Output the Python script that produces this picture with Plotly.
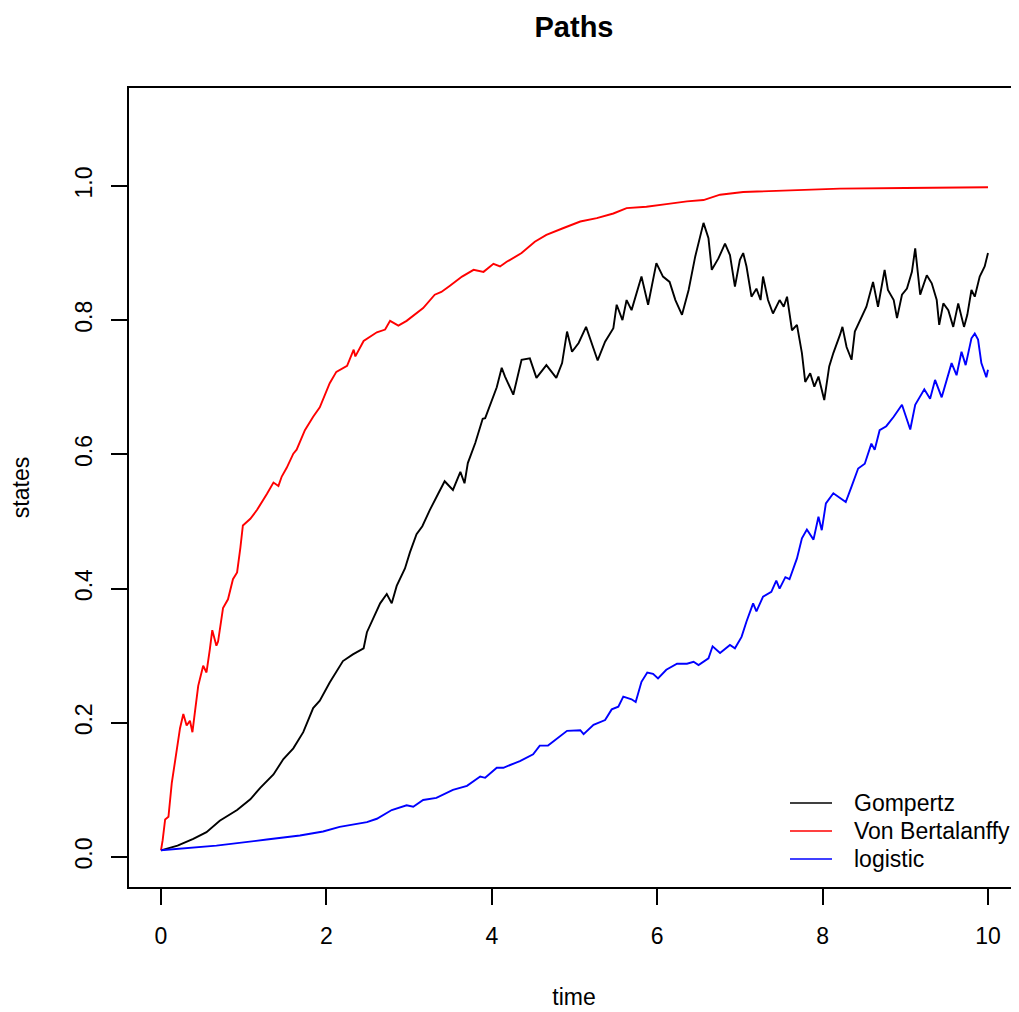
import plotly.graph_objects as go

# ---- data ----
t_gompertz = [0, 0.2, 0.39, 0.55, 0.71, 0.92, 1.08, 1.20, 1.36, 1.48, 1.60, 1.72, 1.84, 1.92, 2.04, 2.20,
              2.32, 2.45, 2.49, 2.59, 2.65, 2.73, 2.79, 2.85, 2.95, 3.01, 3.09, 3.16, 3.25, 3.35, 3.43,
              3.53, 3.62, 3.67, 3.71, 3.80, 3.89, 3.92, 4.02, 4.06, 4.12, 4.16, 4.26, 4.36, 4.46, 4.54,
              4.66, 4.78, 4.85, 4.91, 4.97, 5.05, 5.14, 5.20, 5.28, 5.37, 5.47, 5.51, 5.58, 5.63, 5.69,
              5.81, 5.89, 5.99, 6.07, 6.15, 6.22, 6.30, 6.38, 6.46, 6.56, 6.62, 6.66, 6.74, 6.82, 6.88,
              6.94, 7.00, 7.04, 7.08, 7.14, 7.20, 7.25, 7.28, 7.34, 7.40, 7.48, 7.53, 7.57, 7.63, 7.69,
              7.75, 7.79, 7.85, 7.90, 7.95, 8.02, 8.08, 8.13, 8.21, 8.24, 8.29, 8.35, 8.39, 8.47, 8.53,
              8.61, 8.67, 8.75, 8.79, 8.86, 8.90, 8.96, 9.02, 9.08, 9.12, 9.18, 9.26, 9.32, 9.38, 9.41,
              9.46, 9.52, 9.58, 9.64, 9.71, 9.75, 9.80, 9.84, 9.90, 9.96, 10.0]
v_gompertz = [0.010, 0.017, 0.027, 0.037, 0.054, 0.070, 0.086, 0.103, 0.123, 0.146, 0.162, 0.186, 0.222, 0.233,
              0.260, 0.292, 0.302, 0.311, 0.335, 0.362, 0.378, 0.392, 0.378, 0.404, 0.430, 0.454, 0.481,
              0.493, 0.517, 0.541, 0.560, 0.547, 0.574, 0.557, 0.587, 0.617, 0.653, 0.654, 0.686, 0.700,
              0.729, 0.716, 0.689, 0.741, 0.743, 0.714, 0.733, 0.714, 0.736, 0.783, 0.753, 0.766, 0.790,
              0.768, 0.740, 0.768, 0.788, 0.823, 0.800, 0.830, 0.815, 0.865, 0.823, 0.885, 0.865, 0.857,
              0.830, 0.808, 0.845, 0.895, 0.945, 0.922, 0.875, 0.892, 0.914, 0.897, 0.850, 0.890, 0.900,
              0.880, 0.835, 0.847, 0.830, 0.865, 0.830, 0.810, 0.830, 0.820, 0.835, 0.785, 0.793, 0.751,
              0.708, 0.721, 0.701, 0.716, 0.681, 0.731, 0.751, 0.778, 0.790, 0.760, 0.741, 0.783, 0.803,
              0.820, 0.857, 0.820, 0.875, 0.845, 0.830, 0.803, 0.838, 0.847, 0.872, 0.907, 0.838, 0.867,
              0.855, 0.830, 0.793, 0.825, 0.815, 0.790, 0.825, 0.790, 0.808, 0.845, 0.835, 0.865, 0.880,
              0.900]

t_bertalanffy = [0, 0.02, 0.05, 0.09, 0.13, 0.19, 0.23, 0.27, 0.31, 0.35, 0.38, 0.41, 0.45, 0.51, 0.55,
                 0.59, 0.62, 0.67, 0.69, 0.75, 0.81, 0.87, 0.92, 0.96, 0.99, 1.08, 1.16, 1.28, 1.36, 1.42,
                 1.46, 1.52, 1.60, 1.64, 1.74, 1.84, 1.92, 2.04, 2.12, 2.25, 2.33, 2.35, 2.45, 2.61, 2.71,
                 2.77, 2.87, 2.97, 3.03, 3.17, 3.31, 3.39, 3.49, 3.64, 3.78, 3.90, 4.02, 4.10, 4.18, 4.36,
                 4.52, 4.66, 4.86, 5.07, 5.27, 5.47, 5.63, 5.87, 6.11, 6.36, 6.56, 6.76, 7.04, 7.64, 8.21,
                 9.0, 10.0]
v_bertalanffy = [0.010, 0.025, 0.056, 0.060, 0.110, 0.156, 0.192, 0.213, 0.196, 0.203, 0.186, 0.216, 0.255,
                 0.285, 0.275, 0.309, 0.338, 0.315, 0.321, 0.371, 0.384, 0.414, 0.424, 0.461, 0.494, 0.504,
                 0.517, 0.541, 0.558, 0.553, 0.567, 0.580, 0.601, 0.607, 0.636, 0.656, 0.670, 0.706, 0.723,
                 0.732, 0.756, 0.746, 0.769, 0.782, 0.786, 0.799, 0.792, 0.799, 0.805, 0.818, 0.838, 0.842,
                 0.851, 0.865, 0.875, 0.872, 0.884, 0.880, 0.887, 0.900, 0.917, 0.927, 0.937, 0.947, 0.952,
                 0.959, 0.967, 0.969, 0.973, 0.977, 0.979, 0.987, 0.991, 0.994, 0.996, 0.997, 0.998]

t_logistic = [0, 0.67, 1.28, 1.68, 1.96, 2.16, 2.49, 2.61, 2.79, 2.97, 3.05, 3.17, 3.33, 3.53, 3.70, 3.86,
              3.92, 4.06, 4.14, 4.34, 4.50, 4.58, 4.68, 4.82, 4.91, 5.07, 5.11, 5.23, 5.37, 5.45, 5.53,
              5.59, 5.69, 5.74, 5.81, 5.88, 5.95, 6.01, 6.11, 6.24, 6.36, 6.44, 6.50, 6.62, 6.67, 6.76,
              6.88, 6.94, 7.02, 7.08, 7.16, 7.20, 7.28, 7.38, 7.44, 7.48, 7.55, 7.60, 7.65, 7.69, 7.75,
              7.81, 7.89, 7.95, 7.99, 8.04, 8.13, 8.21, 8.28, 8.35, 8.43, 8.51, 8.59, 8.63, 8.69, 8.77,
              8.86, 8.96, 9.00, 9.06, 9.12, 9.18, 9.23, 9.30, 9.36, 9.44, 9.50, 9.56, 9.62, 9.68, 9.73,
              9.80, 9.84, 9.88, 9.92, 9.98, 10.0]
v_logistic = [0.010, 0.017, 0.026, 0.032, 0.038, 0.045, 0.052, 0.057, 0.070, 0.077, 0.075, 0.085, 0.088,
              0.100, 0.106, 0.120, 0.118, 0.133, 0.133, 0.143, 0.153, 0.166, 0.166, 0.179, 0.188, 0.189,
              0.183, 0.197, 0.204, 0.220, 0.224, 0.239, 0.235, 0.231, 0.261, 0.275, 0.273, 0.266, 0.279,
              0.288, 0.288, 0.291, 0.286, 0.296, 0.314, 0.304, 0.316, 0.311, 0.328, 0.351, 0.378, 0.366,
              0.388, 0.395, 0.412, 0.400, 0.417, 0.414, 0.433, 0.445, 0.475, 0.488, 0.473, 0.507, 0.487,
              0.527, 0.542, 0.535, 0.529, 0.552, 0.579, 0.586, 0.616, 0.607, 0.636, 0.642, 0.656, 0.674,
              0.659, 0.637, 0.674, 0.686, 0.697, 0.683, 0.711, 0.685, 0.711, 0.736, 0.718, 0.753, 0.733,
              0.773, 0.780, 0.771, 0.736, 0.715, 0.726]

series_names = ["Gompertz", "Von Bertalanffy", "logistic"]
series_colors = ["black", "#ff0000", "#0000ff"]
x_ticks = [0, 2, 4, 6, 8, 10]
y_ticks = [0.0, 0.2, 0.4, 0.6, 0.8, 1.0]
y_ticktext = ["0.0", "0.2", "0.4", "0.6", "0.8", "1.0"]

FONT = "Liberation Sans, Arial, Helvetica, sans-serif"

# the page body adds an 8px margin, so the figure is 8px smaller and margins compensate
W, H = 1011, 1004

fig = go.Figure()
for tt, vv, nm, col in zip([t_gompertz, t_bertalanffy, t_logistic],
                           [v_gompertz, v_bertalanffy, v_logistic],
                           series_names, series_colors):
    fig.add_trace(go.Scatter(x=tt, y=vv, mode="lines", name=nm,
                             line=dict(color=col, width=1.9), showlegend=False))

# legend drawn R-style (no box), positioned in paper coordinates
leg_x0, leg_x1, leg_text_x = 0.7427, 0.7899, 0.8124
leg_y = [0.1051, 0.0701, 0.0350]
for nm, col, yy in zip(series_names, series_colors, leg_y):
    fig.add_shape(type="line", xref="paper", yref="paper", x0=leg_x0, x1=leg_x1, y0=yy, y1=yy,
                  line=dict(color=col, width=1.6))
    fig.add_annotation(xref="paper", yref="paper", x=leg_text_x, y=yy, text=nm, showarrow=False,
                       xanchor="left", yanchor="middle", font=dict(size=23, family=FONT, color="black"))

fig.update_layout(
    width=W, height=H,
    margin=dict(l=121, r=0, t=80, b=125, autoexpand=False),
    paper_bgcolor="white", plot_bgcolor="white",
    font=dict(family=FONT, size=23, color="black"),
    title=dict(text="<b>Paths</b>", x=0.5, xref="paper", xanchor="center",
               y=1 - 19 / H, yref="container", yanchor="middle", automargin=False,
               font=dict(size=29, family=FONT, color="black")),
    showlegend=False,
)
fig.update_xaxes(range=[-0.387, 10.375], tickvals=x_ticks, ticks="outside", ticklen=16,
                 tickwidth=1.5, tickcolor="black", showline=True, linecolor="black", linewidth=1.5,
                 mirror=True, showgrid=False, zeroline=False, automargin=False, ticklabelstandoff=12,
                 title=dict(text="time", font=dict(size=23, family=FONT), standoff=41),
                 tickfont=dict(size=23, family=FONT))
fig.update_yaxes(range=[-0.0447, 1.146], tickvals=y_ticks, ticktext=y_ticktext, ticks="outside",
                 ticklen=16, tickwidth=1.5, tickcolor="black", showline=True, linecolor="black",
                 linewidth=1.5, mirror=False, showgrid=False, zeroline=False, tickangle=-90,
                 automargin=False, ticklabelstandoff=10,
                 title=dict(text="states", font=dict(size=23, family=FONT), standoff=36),
                 tickfont=dict(size=23, family=FONT))

fig.write_html("out.html")
